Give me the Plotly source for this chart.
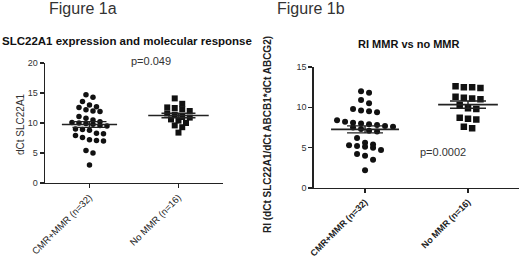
import numpy as np
import plotly.graph_objects as go

categories = ["CMR+MMR (n=32)", "No MMR (n=16)"]

fig1a_cmr_mmr = [14.7, 14.3, 13.6, 13.0, 12.7, 12.6, 12.2, 12.0, 11.9, 11.1, 10.8, 10.5,
                 10.2, 10.1, 10.0, 9.9, 9.8, 9.6, 9.5, 9.0, 8.9, 8.8, 8.3, 8.2,
                 7.9, 7.6, 7.2, 7.1, 7.0, 5.4, 5.0, 3.0]
fig1a_no_mmr = [14.1, 13.2, 12.6, 12.5, 12.3, 12.0, 11.6, 11.4, 11.0, 10.9, 10.6, 10.4,
                10.0, 9.6, 9.3, 8.4]

fig1b_cmr_mmr = [12.0, 11.8, 10.9, 10.5, 9.8, 9.6, 9.5, 9.4, 8.4, 8.2, 8.1, 8.0,
                 7.9, 7.8, 7.7, 7.6, 7.5, 7.3, 7.1, 7.0, 6.2, 5.6, 5.4, 5.3,
                 5.2, 5.1, 5.0, 4.7, 4.2, 4.0, 3.5, 2.2]
fig1b_no_mmr = [12.6, 12.5, 12.4, 12.5, 11.2, 11.0, 11.3, 11.1, 10.3, 9.9, 9.8, 8.7,
                8.5, 8.6, 7.6, 7.4]

y_ticks_1a = [0, 5, 10, 15, 20]
y_ticks_1b = [0, 5, 10, 15]

FONT = "Liberation Sans, Arial, sans-serif"
INK = "#111111"


def row_offsets(values, bin_h, spacing_px, ppu_x):
    """GraphPad-like dot layout: values within one marker height share a row,
    and the points of a row are set side by side, centred on the category."""
    vals = np.asarray(values, dtype=float)
    order = np.argsort(-vals, kind="stable")
    offs = np.zeros(len(vals))
    rows, cur, start = [], [], None
    for i in order:
        if start is None or start - vals[i] < bin_h:
            if start is None:
                start = vals[i]
            cur.append(i)
        else:
            rows.append(cur)
            cur, start = [i], vals[i]
    if cur:
        rows.append(cur)
    for r in rows:
        k = len(r)
        for j, i in enumerate(r):
            offs[i] = (j - (k - 1) / 2.0) * spacing_px / ppu_x
    return offs


def add_group(fig, values, pos, xa, ya, symbol, size, bin_h, spacing, ppu_x, half, cap):
    vals = np.asarray(values, dtype=float)
    offs = row_offsets(vals, bin_h, spacing, ppu_x)
    fig.add_trace(go.Scatter(
        x=pos + offs, y=vals, mode="markers", xaxis=xa, yaxis=ya,
        marker=dict(symbol=symbol, size=size, color=INK, line=dict(width=0)),
        showlegend=False, hoverinfo="y"))
    mean = vals.mean()
    sem = vals.std(ddof=1) / np.sqrt(len(vals))
    fig.add_trace(go.Scatter(
        x=[pos - half, pos + half], y=[mean, mean], mode="lines", xaxis=xa, yaxis=ya,
        line=dict(color="#222222", width=1.6), showlegend=False, hoverinfo="skip"))
    fig.add_trace(go.Scatter(
        x=[pos], y=[mean], mode="markers", xaxis=xa, yaxis=ya,
        marker=dict(size=1, color="#222222"),
        error_y=dict(type="data", array=[sem], visible=True, color="#222222",
                     thickness=1.4, width=cap),
        showlegend=False, hoverinfo="skip"))


fig = go.Figure()

# Panel 1a: x axis 45..223 px (89 px per category), y 0..20 over 120 px
add_group(fig, fig1a_cmr_mmr, 0, "x", "y", "circle", 5.5, 1.0, 7.0, 89.0, 0.31, 17)
add_group(fig, fig1a_no_mmr, 1, "x", "y", "square", 6, 1.0, 7.5, 89.0, 0.34, 17)

# Panel 1b: x axis 313.5..519.5 px (103 px per category), y 0..15 over 121 px
add_group(fig, fig1b_cmr_mmr, 0, "x2", "y2", "circle", 6, 0.85, 8.0, 103.0, 0.33, 18)
add_group(fig, fig1b_no_mmr, 1, "x2", "y2", "square", 6.5, 0.85, 8.3, 103.0, 0.29, 18)

axis_common = dict(showline=True, linecolor="#222222", linewidth=1.3, ticks="outside",
                   ticklen=4, tickwidth=1.2, tickcolor="#222222", showgrid=False,
                   zeroline=False, fixedrange=True, automargin=False)

fig.update_layout(
    template="none",
    width=520, height=258, autosize=False,
    margin=dict(l=0, r=0, t=0, b=0, pad=0),
    paper_bgcolor="white", plot_bgcolor="white",
    font=dict(family=FONT, color="#222222"),
    xaxis=dict(domain=[0.0865, 0.4288], range=[-0.5, 1.5], tickvals=[0, 1],
               ticktext=categories, tickangle=-45, tickfont=dict(size=9.5, color="#222222"),
               anchor="y", **axis_common),
    yaxis=dict(domain=[0.2907, 0.7558], range=[0, 20], tickvals=y_ticks_1a,
               tickfont=dict(size=9, color="#333333"), anchor="x", **axis_common),
    xaxis2=dict(domain=[0.603, 0.999], range=[-0.5, 1.5], tickvals=[0, 1],
                ticktext=["<b>%s</b>" % c for c in categories], tickangle=-45,
                tickfont=dict(size=9, color="#222222"), anchor="y2", **axis_common),
    yaxis2=dict(domain=[0.2713, 0.7403], range=[0, 15], tickvals=y_ticks_1b,
                tickfont=dict(size=9, color="#333333"), anchor="x2", **axis_common),
)

annotations = [
    dict(text="Figure 1a", x=47, y=9, xanchor="left", font=dict(size=16, color="#333333")),
    dict(text="<b>SLC22A1 expression and molecular response</b>", x=127, y=41,
         xanchor="center", font=dict(size=11.5, color="#111111")),
    dict(text="Figure 1b", x=275, y=9, xanchor="left", font=dict(size=16, color="#333333")),
    dict(text="<b>RI MMR vs no MMR</b>", x=408, y=44, xanchor="center",
         font=dict(size=11, color="#111111")),
    dict(text="p=0.049", x=151, y=61, xanchor="center", font=dict(size=11, color="#333333")),
    dict(text="p=0.0002", x=443, y=152, xanchor="center", font=dict(size=11, color="#333333")),
    dict(text="dCt SLC22A1", x=21, y=124, xanchor="center", textangle=-90,
         font=dict(size=10, color="#333333")),
    dict(text="<b>RI (dCt SLC22A1/dCt ABCB1*dCt ABCG2)</b>", x=267, y=135,
         xanchor="center", textangle=-90, font=dict(size=10, color="#222222")),
]
for a in annotations:
    a["x"] = a["x"] / 520.0
    a["y"] = (258 - a["y"]) / 258.0
    a["xref"] = "paper"
    a["yref"] = "paper"
    a["yanchor"] = "middle"
    a["showarrow"] = False
fig.update_layout(annotations=annotations)

fig.write_html(
    "out.html",
    config={"displayModeBar": False, "staticPlot": True},
    post_script="document.body.style.margin='0';document.body.style.overflow='hidden';",
)
